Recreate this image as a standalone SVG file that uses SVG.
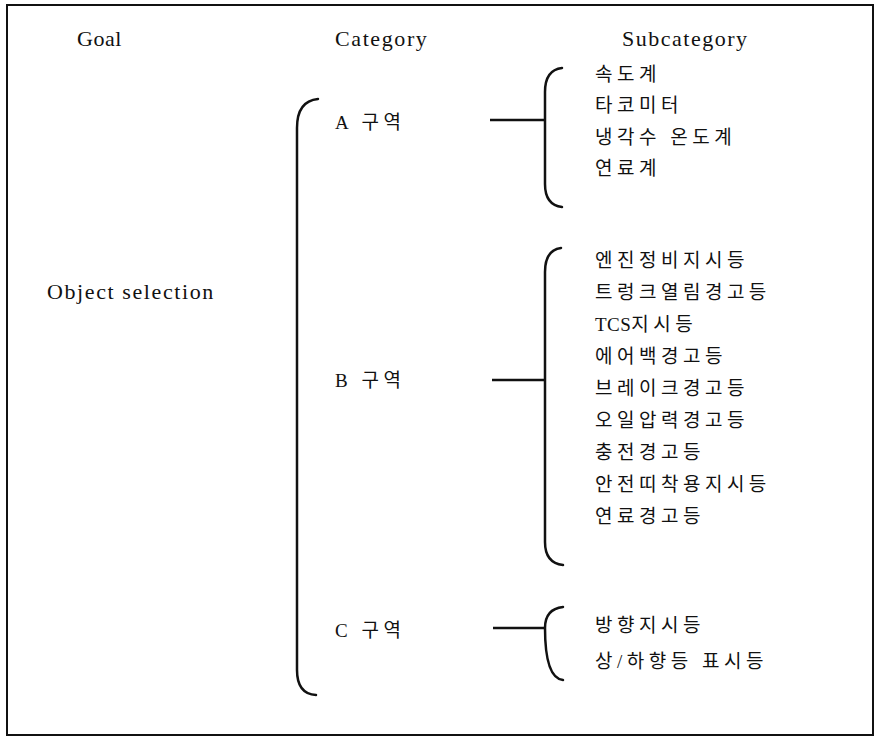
<svg xmlns="http://www.w3.org/2000/svg" width="878" height="737" viewBox="0 0 878 737">
<style>
.lat{font-family:"Liberation Serif","Noto Sans CJK KR",serif;font-size:22px;fill:#111;letter-spacing:1.6px}
.ko{font-family:"Liberation Serif","Noto Sans CJK KR",serif;font-size:19px;fill:#111;letter-spacing:4.5px}
.tcs{letter-spacing:0.5px}
.br{fill:none;stroke:#111;stroke-width:2.5;stroke-linecap:round}
.ln{fill:none;stroke:#111;stroke-width:2.5}
</style>
<rect x="7" y="5" width="866" height="730" fill="#fff" stroke="#111" stroke-width="2"/>
<g id="headers">
<text class="lat" x="77" y="46" style="letter-spacing:0.5px">Goal</text>
<text class="lat" x="335" y="46">Category</text>
<text class="lat" x="622" y="46" style="letter-spacing:1.5px">Subcategory</text>
</g>
<g id="goal"><text class="lat" x="47" y="299">Object selection</text></g>
<g id="catA"><text class="ko" x="335" y="129">A 구역</text></g>
<g id="catB"><text class="ko" x="335" y="387">B 구역</text></g>
<g id="catC"><text class="ko" x="335" y="637">C 구역</text></g>
<g id="subA">
<text class="ko" x="595" y="81">속도계</text>
<text class="ko" x="595" y="112">타코미터</text>
<text class="ko" x="595" y="144">냉각수 온도계</text>
<text class="ko" x="595" y="175">연료계</text>
</g>
<g id="subB">
<text class="ko" x="595" y="267">엔진정비지시등</text>
<text class="ko" x="595" y="299">트렁크열림경고등</text>
<text class="ko" x="595" y="331"><tspan class="tcs">TCS</tspan>지시등</text>
<text class="ko" x="595" y="363">에어백경고등</text>
<text class="ko" x="595" y="395">브레이크경고등</text>
<text class="ko" x="595" y="427">오일압력경고등</text>
<text class="ko" x="595" y="459">충전경고등</text>
<text class="ko" x="595" y="491">안전띠착용지시등</text>
<text class="ko" x="595" y="523">연료경고등</text>
</g>
<g id="subC">
<text class="ko" x="595" y="632">방향지시등</text>
<text class="ko" x="595" y="668">상/하향등 표시등</text>
</g>
<g id="connectors">
<path class="br" d="M318 99 Q297 101 297 128 L297 670 Q297 694 316 695"/>
<path class="ln" d="M490 120 H545"/>
<path class="br" d="M562 68 Q545 70 545 92 L545 184 Q545 205 562 207"/>
<path class="ln" d="M492 380 H545"/>
<path class="br" d="M561 248 Q545 250 545 272 L545 542 Q545 563 563 565"/>
<path class="ln" d="M493 628 H545"/>
<path class="br" d="M563 607 Q545 609 545 628 Q545 678 563 680"/>
</g>
</svg>
